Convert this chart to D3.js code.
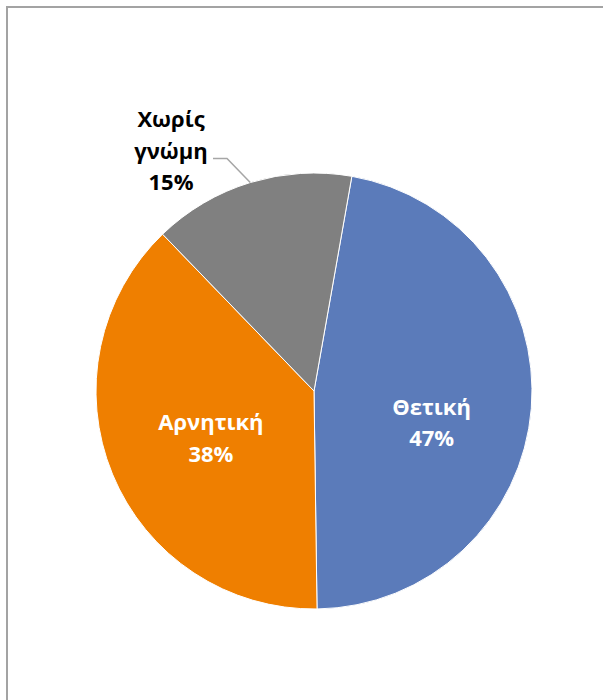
<!DOCTYPE html>
<html>
<head>
<meta charset="utf-8">
<script src="https://cdn.jsdelivr.net/npm/d3@7"></script>
<style>
  html, body { margin: 0; padding: 0; background: #fff; }
  svg { display: block; }
</style>
</head>
<body>
<svg id="chart" width="603" height="700"></svg>
<script>
const categories = ["Θετική", "Αρνητική", "Χωρίς γνώμη"];
const values = [47, 38, 15];
const percentLabels = ["47%", "38%", "15%"];
const labelLines = [["Θετική"], ["Αρνητική"], ["Χωρίς", "γνώμη"]];
const colors = ["#5B7BBA", "#EF7F00", "#808080"];
const labelColors = ["#ffffff", "#ffffff", "#000000"];

const svg = d3.select("#chart");

// chart frame (extends beyond the visible area on right and bottom)
svg.append("rect")
  .attr("x", 7).attr("y", 7)
  .attr("width", 720).attr("height", 800)
  .attr("fill", "none")
  .attr("stroke", "#A3A3A3")
  .attr("stroke-width", 2);

const cx = 314, cy = 391, R = 218;
const g = svg.append("g").attr("transform", `translate(${cx},${cy})`);

const firstSliceAngle = 10 * Math.PI / 180;
const pie = d3.pie().sort(null).value(d => d.value)
  .startAngle(firstSliceAngle).endAngle(firstSliceAngle + 2 * Math.PI);
const data = categories.map((c, i) => ({ cat: c, value: values[i], i }));
const arcs = pie(data);
const arc = d3.arc().innerRadius(0).outerRadius(R);

g.selectAll("path.slice").data(arcs).enter().append("path")
  .attr("class", "slice")
  .attr("d", arc)
  .attr("fill", d => colors[d.data.i])
  .attr("stroke", "#ffffff")
  .attr("stroke-width", 1);

// label placement
const fontFamily = "'Open Sans', 'Noto Sans', sans-serif";
const fontSize = 22;
const lineH = 31.5;
const insideArc = d3.arc().innerRadius(0).outerRadius(2 * 118);
const labelOffsets = [[0, 22], [6, 2], [0, 0]];

arcs.forEach((a) => {
  const i = a.data.i;
  const lines = labelLines[i].concat([percentLabels[i]]);
  let lx, ly; // center of text block
  if (i < 2) {
    const c = insideArc.centroid(a);
    lx = c[0] + labelOffsets[i][0];
    ly = c[1] + labelOffsets[i][1];
  } else {
    // outside label with leader line to the slice's mid-edge
    const mid = (a.startAngle + a.endAngle) / 2;
    const edge = [R * Math.sin(mid), -R * Math.cos(mid)];
    lx = 171 - cx;
    ly = 151 - cy;
    g.append("path")
      .attr("d", d3.line()([[213 - cx, 158.5 - cy], [227 - cx, 158.5 - cy], edge]))
      .attr("fill", "none")
      .attr("stroke", "#A6A6A6")
      .attr("stroke-width", 1.5);
  }
  const t = g.append("text")
    .attr("text-anchor", "middle")
    .attr("font-family", fontFamily)
    .attr("font-weight", "bold")
    .attr("font-size", fontSize)
    .attr("fill", labelColors[i]);
  const n = lines.length;
  lines.forEach((s, j) => {
    t.append("tspan")
      .attr("x", lx)
      .attr("y", ly + (j - (n - 1) / 2) * lineH + fontSize * 0.36)
      .text(s);
  });
});
</script>
</body>
</html>
